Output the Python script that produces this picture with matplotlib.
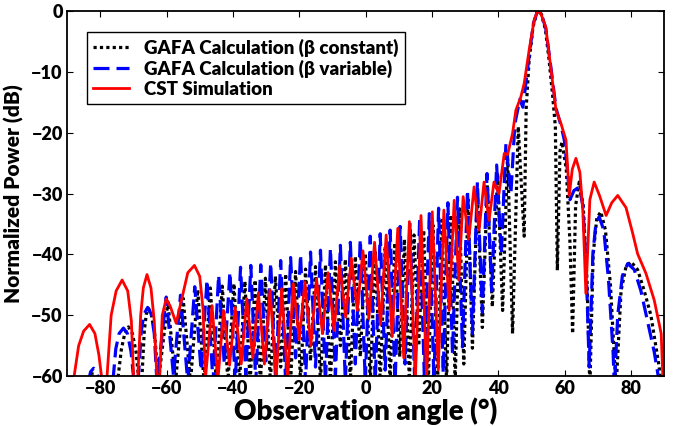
import numpy as np
import matplotlib
matplotlib.use("Agg")
import matplotlib.pyplot as plt

plt.rcParams['font.family'] = ['Lato', 'DejaVu Sans']
plt.rcParams['font.weight'] = 'heavy'

# ---- CST simulation (red) : lobe peaks, nulls and a few shoulder points
cst_peak_deg = [-83.2, -73.4, -65.9, -60.1, -51.6, -46.3, -42.8, -39.3, -35.8, -32.3,
                -28.8, -25.3, -21.8, -18.3, -14.8, -11.3, -7.8, -4.3, -0.8, 2.7,
                6.2, 9.7, 13.2, 16.7, 20.1, 23.6, 26.7, 29.4, 32.7, 35.7,
                38.7, 41.8, 51.8, 63.4, 68.9, 76.0]
cst_peak_db = [-51.5, -44.2, -43.3, -47.3, -41.8, -48.4, -49.2, -48.7, -47.3, -46.3,
               -45.8, -45.6, -44.8, -44.5, -44.0, -43.0, -41.8, -40.6, -39.4, -38.0,
               -36.8, -35.7, -34.6, -33.6, -33.0, -32.7, -31.1, -30.5, -28.9, -28.1,
               -28.1, -23.4, 0.0, -24.2, -28.1, -30.3]
cst_null_deg = [-88.0, -79.5, -78.0, -69.9, -68.7, -62.9, -62.1, -57.1, -48.3, -44.5,
                -41.0, -37.5, -34.0, -30.5, -27.0, -23.5, -20.0, -16.5, -13.0, -9.5,
                -6.0, -2.5, 1.0, 4.5, 8.0, 11.5, 15.0, 18.4, 21.9, 25.2,
                28.1, 31.1, 34.2, 37.2, 40.2, 61.4, 66.4, 72.5, 90.0]
cst_null_db = [-60.5, -60.5, -60.5, -60.5, -60.5, -60.5, -60.5, -51.3, -60.5, -60.5,
               -58.2, -58.0, -57.0, -58.0, -60.5, -60.5, -54.0, -55.0, -53.0, -52.5,
               -50.3, -49.2, -50.5, -51.5, -53.5, -57.0, -60.5, -60.5, -59.0, -49.2,
               -44.2, -37.5, -36.0, -34.4, -30.0, -30.3, -46.4, -33.6, -62.0]
cst_edge_deg = [-86.5, -85.0, -81.6, -80.4, -76.7, -75.2, -71.7, -70.6, -67.8, -67.0,
                -64.7, -63.7, -61.3, -58.9, -55.5, -53.6, -50.0, -49.0, 42.8, 44.3,
                45.3, 46.8, 47.8, 49.3, 50.8, 52.8, 54.3, 55.8, 57.4, 58.9,
                60.4, 62.3, 64.6, 65.5, 67.6, 70.5, 74.2, 78.5, 80.5, 82.0,
                84.5, 87.0, 89.1, 89.6]
cst_edge_db = [-55.0, -52.6, -53.0, -56.5, -50.0, -46.0, -46.0, -51.0, -50.0, -45.5,
               -45.5, -51.0, -50.0, -48.5, -47.5, -43.0, -43.6, -49.0, -23.6, -20.1,
               -16.3, -14.1, -11.9, -6.4, -1.5, -0.4, -2.6, -9.2, -16.3, -18.5,
               -21.2, -26.0, -26.5, -33.0, -31.0, -30.3, -31.5, -32.3, -36.5, -39.9,
               -43.1, -47.5, -53.0, -60.0]

# ---- GAFA, beta variable (blue)
var_peak_deg = [-82.0, -73.0, -65.7, -60.1, -55.8, -51.5, -47.8, -44.3, -40.9, -37.7,
                -34.6, -31.6, -28.6, -25.6, -22.6, -19.6, -16.6, -13.6, -10.6, -7.6,
                -4.6, -1.6, 1.4, 4.4, 7.4, 10.4, 13.4, 16.3, 19.2, 22.0,
                24.8, 27.7, 30.7, 33.7, 36.6, 39.5, 42.3, 46.5, 51.8, 64.4,
                70.4, 79.0]
var_peak_db = [-58.7, -52.1, -48.7, -47.0, -46.7, -45.3, -44.2, -43.4, -42.9, -42.1,
               -41.8, -41.7, -41.4, -41.0, -40.5, -40.0, -39.6, -39.3, -39.0, -38.5,
               -38.0, -37.5, -37.0, -36.6, -36.0, -35.4, -34.8, -34.1, -33.3, -32.4,
               -31.5, -30.6, -29.4, -28.1, -26.7, -25.3, -21.8, -14.5, 0.0, -28.9,
               -33.8, -41.5]
var_null_deg = [-83.6, -80.2, -76.2, -69.8, -68.6, -62.9, -57.9, -53.6, -49.6, -46.0,
                -42.6, -39.3, -36.1, -33.1, -30.1, -27.1, -24.1, -21.1, -18.1, -15.1,
                -12.1, -9.1, -6.1, -3.1, -0.1, 2.9, 5.9, 8.9, 11.9, 14.8,
                17.7, 20.6, 23.4, 26.2, 29.2, 32.2, 35.2, 38.0, 40.9, 43.8,
                47.4, 61.6, 67.4, 75.0, 88.6]
var_null_db = [-61, -61, -61, -61, -61, -61, -60, -61, -59, -61,
               -58, -61, -60, -61, -57.5, -61, -61, -57, -61, -58.5,
               -61, -60, -61, -58, -61, -61, -59, -61, -58, -61,
               -60, -61, -59.5, -56.3, -55.2, -53.0, -49.5, -46.0, -40.0, -30.0,
               -15.8, -31.0, -58.5, -62, -62]
var_edge_deg = [-82.9, -81.1, -75.3, -74.3, -71.8, -70.7, -67.6, -66.8, -64.6, -63.7,
                45.0, 48.3, 49.5, 50.6, 53.0, 54.3, 55.8, 57.4, 58.9, 59.9,
                60.8, 62.8, 65.5, 66.5, 68.5, 69.4, 71.8, 73.2, 74.6, 76.0,
                77.4, 81.0, 83.0, 85.0, 87.0, 88.1]
var_edge_db = [-59.3, -59.3, -55.5, -53.0, -53.0, -56.0, -52.5, -49.8, -49.8, -53.0,
               -18.5, -11.9, -6.5, -2.0, -0.5, -2.8, -9.0, -16.0, -18.8, -21.2,
               -26.0, -29.5, -32.0, -42.0, -40.0, -35.0, -36.0, -44.0, -56.0, -50.0,
               -43.5, -42.5, -46.0, -51.0, -56.0, -59.6]

# ---- GAFA, beta constant (black)
const_peak_deg = [-82.3, -71.5, -65.4, -59.6, -55.0, -50.6, -46.8, -43.2, -39.7, -36.4,
                  -33.3, -30.2, -27.2, -24.1, -21.1, -18.1, -15.1, -12.1, -9.1, -6.1,
                  -3.1, -0.1, 2.9, 5.9, 8.8, 11.7, 14.6, 17.5, 20.3, 23.0,
                  25.7, 28.3, 30.9, 33.7, 36.7, 39.8, 42.8, 46.0, 51.8, 59.2,
                  64.4, 70.9, 80.0]
const_peak_db = [-59.6, -51.9, -48.9, -47.8, -47.2, -45.8, -45.5, -45.2, -44.8, -44.4,
                 -44.2, -43.9, -43.6, -43.2, -42.8, -42.4, -42.0, -41.7, -41.2, -40.8,
                 -40.3, -39.8, -39.3, -38.7, -38.1, -37.5, -36.8, -36.0, -35.2, -34.4,
                 -33.5, -32.5, -31.0, -29.6, -28.6, -26.6, -23.6, -19.0, 0.0, -21.5,
                 -28.1, -33.0, -41.2]
const_null_deg = [-83.4, -81.0, -74.8, -68.3, -67.5, -62.5, -57.3, -52.8, -48.7, -45.0,
                  -41.5, -38.0, -34.8, -31.7, -28.7, -25.6, -22.6, -19.6, -16.6, -13.6,
                  -10.6, -7.6, -4.6, -1.6, 1.4, 4.4, 7.4, 10.3, 13.2, 16.0,
                  18.9, 21.7, 24.4, 27.0, 29.6, 32.2, 35.2, 38.2, 41.3, 44.3,
                  47.8, 57.8, 62.4, 67.6, 75.5, 89.2]
const_null_db = [-61, -61, -61, -61, -61, -61, -61, -61, -61, -61,
                 -61, -61, -61, -61, -61, -58.5, -61, -61, -57.5, -61,
                 -61, -55.0, -61, -56.8, -61, -61, -61, -56.8, -61, -55.0,
                 -61, -61, -61, -61, -58.0, -55.4, -52.0, -48.6, -49.2, -53.0,
                 -37.0, -42.6, -53.0, -62, -62, -62]
const_edge_deg = [-73.6, -72.6, -70.3, -69.2, -66.7, -66.1, -64.6, -63.6, 48.4, 49.3,
                  50.5, 53.0, 54.2, 55.3, 56.4, 57.2, 58.6, 60.5, 61.6, 63.3,
                  65.6, 66.8, 68.6, 69.7, 72.3, 73.8, 77.0, 78.5, 82.0, 84.0,
                  86.0, 88.5]
const_edge_db = [-55.5, -53.0, -53.0, -56.0, -52.5, -49.8, -49.8, -53.0, -16.0, -8.0,
                 -2.5, -0.5, -3.0, -8.0, -14.0, -19.0, -23.0, -26.0, -38.0, -32.0,
                 -32.0, -45.0, -40.0, -34.0, -36.0, -45.0, -46.0, -42.0, -42.5, -46.0,
                 -50.0, -58.5]


def merge(*parts):
    deg = np.concatenate([np.asarray(p, dtype=float) for p in parts[0::2]])
    db = np.concatenate([np.asarray(p, dtype=float) for p in parts[1::2]])
    order = np.argsort(deg, kind="stable")
    return deg[order], db[order]


const_x, const_y = merge(const_peak_deg, const_peak_db, const_null_deg, const_null_db,
                         const_edge_deg, const_edge_db)
var_x, var_y = merge(var_peak_deg, var_peak_db, var_null_deg, var_null_db,
                     var_edge_deg, var_edge_db)
cst_x, cst_y = merge(cst_peak_deg, cst_peak_db, cst_null_deg, cst_null_db,
                     cst_edge_deg, cst_edge_db)

fig = plt.figure(figsize=(6.84, 4.26), dpi=100)
ax = fig.add_axes([0.098, 0.117, 0.873, 0.857])

ax.plot(const_x, const_y, color="black", linestyle=(0, (1, 1)), linewidth=2.3,
        label="GAFA Calculation (\u03b2 constant)", solid_joinstyle="round")
ax.plot(var_x, var_y, color="blue", linestyle=(0, (5, 2.2)), linewidth=2.3,
        label="GAFA Calculation (\u03b2 variable)")
ax.plot(cst_x, cst_y, color="red", linewidth=2.0,
        label="CST Simulation", solid_joinstyle="round")

ax.set_xlim(-90, 90)
ax.set_ylim(-60, 0)
ax.set_xticks(np.arange(-80, 81, 20))
ax.set_yticks(np.arange(-60, 1, 10))
ax.tick_params(direction="in", top=True, right=True, length=4, labelsize=13, pad=3)
for lab in ax.get_xticklabels() + ax.get_yticklabels():
    lab.set_fontweight("heavy")
for sp in ax.spines.values():
    sp.set_linewidth(1.3)

ax.set_xlabel("Observation angle (\u00b0)", fontsize=20, fontweight="heavy", labelpad=0)
ax.set_ylabel("Normalized Power (dB)", fontsize=15, fontweight="heavy", labelpad=5)

leg = ax.legend(loc="upper left", bbox_to_anchor=(0.033, 0.943), borderaxespad=0,
                fancybox=False, framealpha=1, edgecolor="black",
                handlelength=1.9, handletextpad=0.8, labelspacing=0.15,
                borderpad=0.35, prop={"weight": "heavy", "size": 13.5})
leg.get_frame().set_linewidth(1.0)

fig.savefig("out.png", dpi=100)
